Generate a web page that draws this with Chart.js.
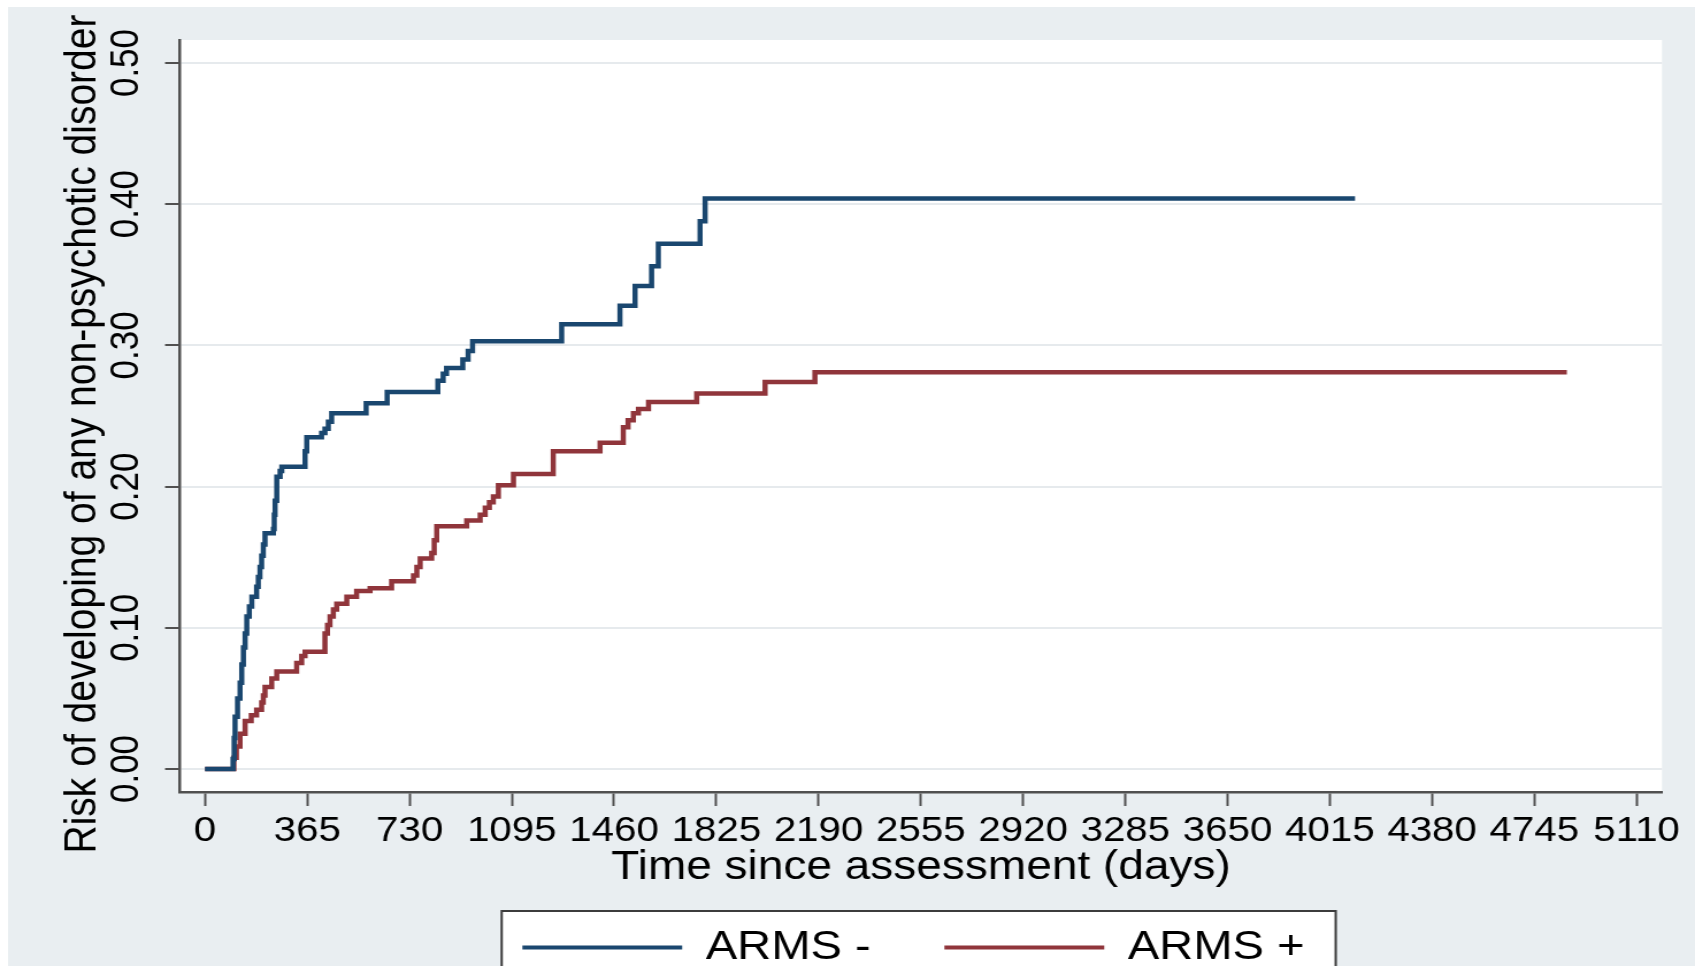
<!DOCTYPE html>
<html>
<head>
<meta charset="utf-8">
<title>Cumulative risk of non-psychotic disorder</title>
<script src="https://cdn.jsdelivr.net/npm/chart.js@4.4.1/dist/chart.umd.min.js"></script>
<style>
  html, body { margin: 0; padding: 0; background: #ffffff; overflow: hidden; }
  #chart { display: block; }
</style>
</head>
<body>
<!-- the drawing surface is 1474 units wide and shown 1695px wide -->
<canvas id="chart" width="1474" height="966" style="width:1695px;height:966px"></canvas>
<script>
// Cumulative incidence (step function) by group
const armsNegDays = [0, 100, 104, 107, 116, 125, 131, 137, 143, 149, 158, 167, 184, 190, 196, 202, 208, 214, 244, 247,
  250, 256, 268, 274, 357, 363, 416, 428, 440, 452, 575, 650, 831, 850, 862, 920, 939, 955, 1273, 1481,
  1535, 1594, 1618, 1767, 1785, 4105];
const armsNegRisk = [0, 0.007, 0.022, 0.037, 0.050, 0.061, 0.074, 0.086, 0.096, 0.108, 0.115, 0.122, 0.129, 0.136, 0.143, 0.151, 0.159, 0.167, 0.170, 0.180,
  0.190, 0.207, 0.211, 0.214, 0.225, 0.235, 0.238, 0.241, 0.246, 0.252, 0.259, 0.267, 0.275, 0.280, 0.284, 0.290, 0.296, 0.303, 0.315, 0.328,
  0.342, 0.356, 0.372, 0.388, 0.404, 0.404];

const armsPosDays = [0, 103, 112, 125, 143, 165, 184, 202, 208, 214, 238, 256, 327, 345, 357, 428, 437, 446, 458, 470,
  506, 541, 589, 666, 744, 756, 768, 809, 818, 827, 934, 982, 1000, 1015, 1029, 1047, 1101, 1243, 1410, 1493,
  1510, 1529, 1547, 1583, 1755, 1999, 2177, 4861];
const armsPosRisk = [0, 0.008, 0.016, 0.025, 0.034, 0.038, 0.042, 0.047, 0.052, 0.058, 0.064, 0.069, 0.075, 0.080, 0.083, 0.096, 0.102, 0.108, 0.113, 0.117,
  0.122, 0.126, 0.128, 0.133, 0.137, 0.143, 0.149, 0.153, 0.162, 0.172, 0.176, 0.180, 0.185, 0.189, 0.193, 0.201, 0.209, 0.225, 0.231, 0.242,
  0.247, 0.252, 0.255, 0.260, 0.266, 0.274, 0.281, 0.281];

const seriesNames = ['ARMS -', 'ARMS +'];
const seriesColors = ['#1a476f', '#90353b'];

const xTickValues = [0, 365, 730, 1095, 1460, 1825, 2190, 2555, 2920, 3285, 3650, 4015, 4380, 4745, 5110];
const yTickValues = [0, 0.1, 0.2, 0.3, 0.4, 0.5];
const yTickLabels = ['0.00', '0.10', '0.20', '0.30', '0.40', '0.50'];

const xTitle = 'Time since assessment (days)';
const yTitle = 'Risk of developing of any non-psychotic disorder';

const FONT = '"Liberation Sans", Arial, Helvetica, sans-serif';
Chart.defaults.font.family = FONT;
Chart.defaults.color = '#000000';

const toPoints = (xs, ys) => xs.map((x, i) => ({ x: x, y: ys[i] }));

// light bluish page, white plot region and the framed legend
const backdrop = {
  id: 'backdrop',
  afterLayout(chart) {
    // nudge the legend row a little to the left of the plot centre
    const lg = chart.legend;
    if (lg) { lg.left -= 6.5; lg.right -= 6.5; }
  },
  beforeDraw(chart) {
    const { ctx, chartArea: a, width, height } = chart;
    ctx.save();
    ctx.fillStyle = '#ffffff';
    ctx.fillRect(0, 0, width, height);
    ctx.fillStyle = '#e9eef1';
    ctx.fillRect(7, 7, width - 7, height - 7);
    ctx.fillStyle = '#ffffff';
    ctx.fillRect(a.left, a.top, a.right - a.left, a.bottom - a.top);
    const hb = chart.legend && chart.legend.legendHitBoxes;
    if (hb && hb.length) {
      const first = hb[0], last = hb[hb.length - 1];
      const x0 = first.left - 18, x1 = last.left + last.width + 27, y0 = first.top - 16;
      ctx.fillStyle = '#ffffff';
      ctx.fillRect(x0, y0, x1 - x0, height - y0 + 10);
      ctx.strokeStyle = '#3c3c3c';
      ctx.lineWidth = 2;
      ctx.strokeRect(x0, y0, x1 - x0, height - y0 + 10);
    }
    ctx.restore();
  }
};

// vertical title of the risk axis
const riskAxisTitle = {
  id: 'riskAxisTitle',
  afterDraw(chart) {
    const { ctx } = chart;
    ctx.save();
    ctx.translate(83, 434);
    ctx.rotate(-Math.PI / 2);
    ctx.font = '39px ' + FONT;
    ctx.fillStyle = '#000000';
    ctx.textAlign = 'center';
    ctx.textBaseline = 'alphabetic';
    ctx.fillText(yTitle, 0, 0);
    ctx.restore();
  }
};

new Chart(document.getElementById('chart'), {
  type: 'line',
  data: {
    datasets: [
      {
        label: seriesNames[0],
        data: toPoints(armsNegDays, armsNegRisk),
        borderColor: seriesColors[0],
        backgroundColor: seriesColors[0],
        borderWidth: 4.5,
        stepped: 'before',
        pointRadius: 0,
        fill: false
      },
      {
        label: seriesNames[1],
        data: toPoints(armsPosDays, armsPosRisk),
        borderColor: seriesColors[1],
        backgroundColor: seriesColors[1],
        borderWidth: 4.5,
        stepped: 'before',
        pointRadius: 0,
        fill: false
      }
    ]
  },
  options: {
    responsive: false,
    devicePixelRatio: 1,
    animation: false,
    events: [],
    layout: { padding: { top: 40, right: 28.7, bottom: 0, left: 0 } },
    plugins: {
      tooltip: { enabled: false },
      legend: {
        position: 'bottom',
        fullSize: false,
        maxHeight: 103,
        labels: {
          font: { size: 41 },
          color: '#000000',
          boxWidth: 139,
          boxHeight: 4,
          padding: 64,
          generateLabels(chart) {
            return chart.data.datasets.map((ds, i) => ({
              text: ds.label,
              fillStyle: ds.borderColor,
              strokeStyle: ds.borderColor,
              lineWidth: 0,
              fontColor: '#000000',
              hidden: false,
              datasetIndex: i
            }));
          }
        }
      }
    },
    scales: {
      x: {
        type: 'linear',
        min: -89.5,
        max: 5200.7,
        afterBuildTicks(scale) { scale.ticks = xTickValues.map(v => ({ value: v })); },
        afterFit(scale) { scale.height = 71; },
        ticks: {
          autoSkip: false,
          maxRotation: 0,
          minRotation: 0,
          padding: 4,
          font: { size: 35 },
          color: '#000000',
          callback: (v) => String(v)
        },
        grid: {
          drawOnChartArea: false,
          drawTicks: true,
          tickLength: 14,
          tickColor: '#505050',
          tickWidth: 2
        },
        border: { display: true, color: '#505050', width: 2.5 },
        title: {
          display: true,
          text: xTitle,
          font: { size: 40, lineHeight: 1 },
          color: '#000000',
          padding: { top: 0, bottom: -25 }
        }
      },
      y: {
        type: 'linear',
        min: -0.0163,
        max: 0.5163,
        afterBuildTicks(scale) { scale.ticks = yTickValues.map(v => ({ value: v })); },
        afterFit(scale) { scale.width = 156.5; },
        ticks: {
          autoSkip: false,
          minRotation: 90,
          maxRotation: 90,
          crossAlign: 'center',
          padding: -1,
          font: { size: 35 },
          color: '#000000',
          callback: (v) => {
            const i = yTickValues.findIndex(t => Math.abs(t - v) < 1e-9);
            return i >= 0 ? yTickLabels[i] : '';
          }
        },
        grid: {
          drawOnChartArea: true,
          color: '#e6eaed',
          lineWidth: 2,
          drawTicks: true,
          tickLength: 13,
          tickColor: '#505050',
          tickWidth: 2
        },
        border: { display: true, color: '#505050', width: 2.5 },
        title: { display: false }
      }
    }
  },
  plugins: [backdrop, riskAxisTitle]
});
</script>
</body>
</html>
